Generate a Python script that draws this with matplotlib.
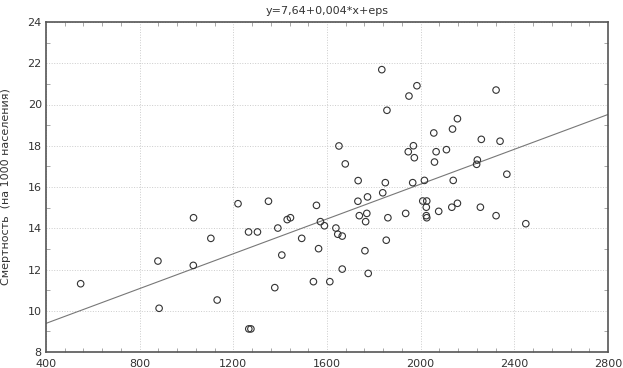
import numpy as np
import matplotlib
matplotlib.use("Agg")
import matplotlib.pyplot as plt
from matplotlib.ticker import MultipleLocator

# Data: income-like x vs mortality per 1000
x_vals = [548, 878, 883, 1030, 1029, 1104, 1131, 1220, 1265, 1303, 1266, 1275,
          1350, 1377, 1390, 1407, 1430, 1444, 1492, 1542, 1555, 1564, 1572, 1589,
          1612, 1638, 1646, 1651, 1665, 1665, 1678,
          1834, 1984, 1950, 1856, 2322, 2157, 2136, 2056, 2259, 2339,
          1969, 1947, 2066, 2110, 1973, 2059, 2242, 2239, 2368,
          1733, 1849, 1966, 2016, 2139, 1838, 1732, 1773, 2009, 2026, 2024,
          2133, 2157, 2255, 2077, 1936, 1738, 1770, 1860, 2024, 2026, 2322,
          1765, 2449, 1853, 1762, 1776]
y_vals = [11.31, 12.41, 10.12, 14.51, 12.20, 13.51, 10.52, 15.19, 13.82, 13.82, 9.12, 9.12,
          15.31, 11.12, 14.01, 12.70, 14.42, 14.51, 13.51, 11.41, 15.11, 13.01, 14.32, 14.12,
          11.41, 14.01, 13.71, 17.99, 13.62, 12.02, 17.12,
          21.69, 20.91, 20.41, 19.72, 20.70, 19.31, 18.81, 18.62, 18.31, 18.22,
          18.00, 17.71, 17.71, 17.81, 17.42, 17.21, 17.31, 17.10, 16.62,
          16.31, 16.21, 16.21, 16.32, 16.32, 15.72, 15.31, 15.52, 15.32, 15.32, 15.02,
          15.02, 15.21, 15.02, 14.82, 14.72, 14.61, 14.72, 14.51, 14.61, 14.51, 14.61,
          14.32, 14.22, 13.42, 12.91, 11.81]

# Regression line coefficients as seen on the chart
line_intercept = 7.70
line_slope = 0.00422
line_x = [400, 2800]

title_text = "y=7,64+0,004*x+eps"
ylabel_text = "Смертность  (на 1000 населения)"
x_ticks = [400, 800, 1200, 1600, 2000, 2400, 2800]
y_ticks = [8, 10, 12, 14, 16, 18, 20, 22, 24]

plt.rcParams['font.family'] = ['DejaVu Sans']
fig = plt.figure(figsize=(6.23, 3.68), dpi=100)
ax = fig.add_axes([46/623, 1 - 352/368, (608-46)/623, (352-22)/368])

ax.scatter(x_vals, y_vals, s=22, facecolors='none', edgecolors='#333333', linewidths=0.8, zorder=3)
lx = np.array(line_x, dtype=float)
ax.plot(lx, line_intercept + line_slope * lx, color='#777777', linewidth=0.8, zorder=2)

ax.set_xlim(400, 2800)
ax.set_ylim(8, 24)
ax.set_xticks(x_ticks)
ax.set_yticks(y_ticks)
ax.xaxis.set_minor_locator(MultipleLocator(80))
ax.yaxis.set_minor_locator(MultipleLocator(1))
ax.tick_params(which='both', direction='in', top=True, right=True, color='#999999')
ax.tick_params(which='major', length=0, labelsize=8, labelcolor='#333333', pad=3)
ax.tick_params(axis='x', which='major', pad=5)
ax.tick_params(which='minor', length=3, width=0.6)
ax.grid(True, which='major', color='#cccccc', linestyle=':', linewidth=0.7)
for s in ax.spines.values():
    s.set_color('#555555')
    s.set_linewidth(1.2)

ax.set_title(title_text, fontsize=8, color='#333333', pad=6)
ax.set_ylabel(ylabel_text, fontsize=8, color='#333333', labelpad=12)

fig.savefig("out.png", dpi=100)
